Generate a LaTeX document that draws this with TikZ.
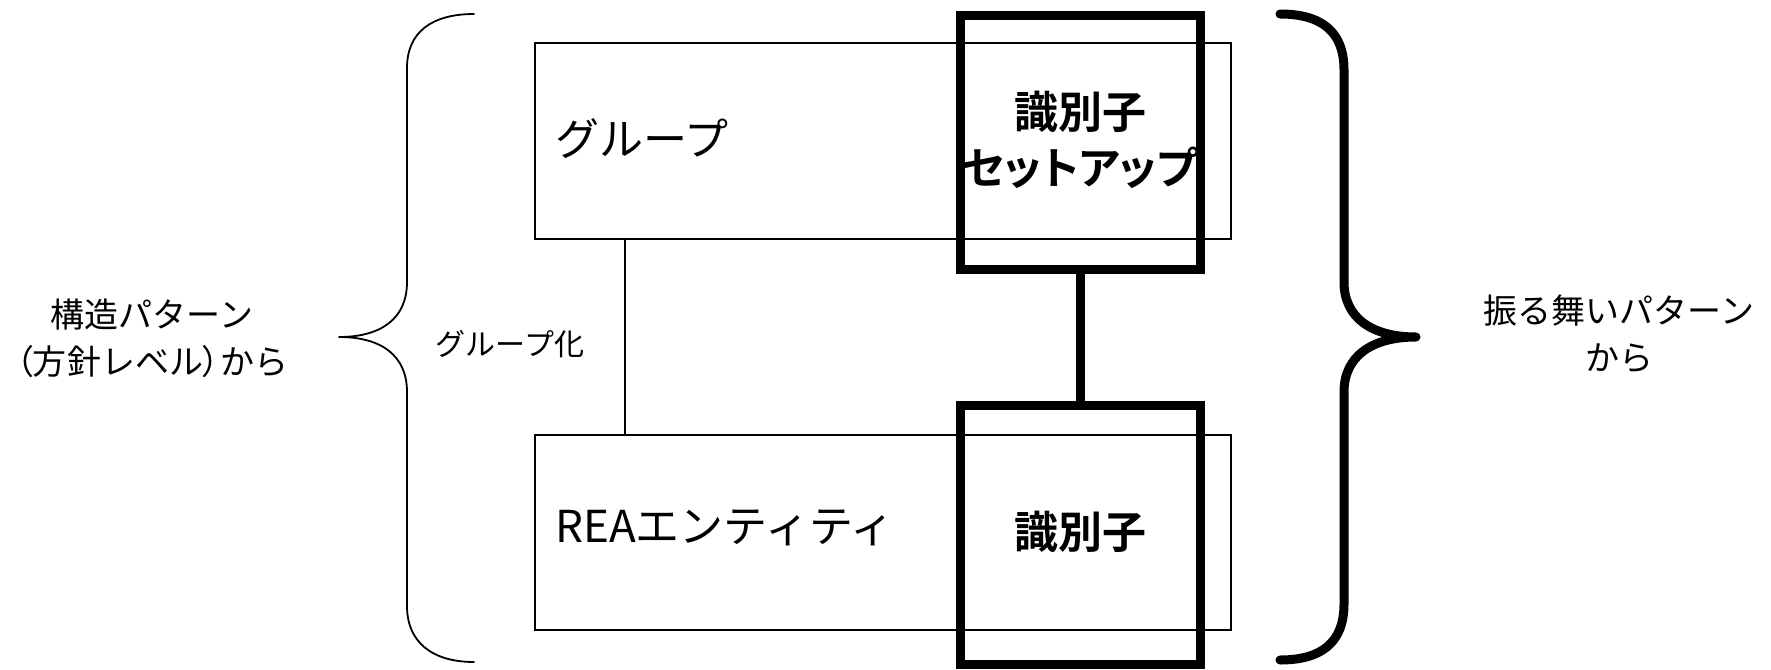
\documentclass[tikz,border=0pt]{standalone}
\usepackage{fontspec}
\setmainfont{Noto Sans CJK JP}[BoldFont={Noto Sans CJK JP Bold}]
\newfontfamily\jppalt{Noto Sans CJK JP}[BoldFont={Noto Sans CJK JP Bold},RawFeature=+palt]
\begin{document}
\begin{tikzpicture}[x=1pt,y=-1pt,
  thinbox/.style={draw,line width=1.8pt,minimum width=696pt,minimum height=196pt,inner sep=0pt},
  thickbox/.style={draw,line width=9pt,minimum width=240pt,inner sep=0pt},
  biglabel/.style={font=\fontsize{44}{56}\selectfont,inner sep=0pt},
  idlabel/.style={font=\jppalt\bfseries\fontsize{44}{56}\selectfont,inner sep=0pt,align=center},
  sidelabel/.style={font=\fontsize{34}{47}\selectfont,inner sep=0pt},
  brace/.style={line width=1.8pt,line cap=round,line join=round},
  thickbrace/.style={line width=9pt,line cap=round,line join=round}]
\useasboundingbox (0,0) rectangle (1771,669);
% thin boxes
\node[thinbox] (topbox) at (883,141) {};
\node[thinbox,minimum height=195pt] (botbox) at (883,532.5) {};
% thick boxes
\node[thickbox,minimum height=253pt] (topid) at (1080,142.5) {};
\node[thickbox,minimum height=259pt] (botid) at (1080,534.5) {};
% connectors
\draw[line width=1.8pt] ([xshift=91pt]topbox.south west) -- ([xshift=91pt]botbox.north west);
\draw[line width=9pt] (topid.south) -- (botid.north);
% labels
\node[biglabel,anchor=west] (grp) at ([xshift=21pt,yshift=2pt]topbox.west) {グループ};
\node[biglabel,anchor=west] (rea) at ([xshift=21pt,yshift=5pt]botbox.west) {REAエンティティ};
\node[idlabel] (idset) at ([yshift=3pt]topid.center) {識別子\\セットアップ};
\node[idlabel] (idb) at ([yshift=3pt]botid.center) {識別子};
\node[font=\fontsize{30}{36}\selectfont,inner sep=0pt] (grpka) at (510,344) {グループ化};
% left brace
\draw[brace] (474,14) .. controls (432,14) and (407,32) .. (407,68)
  -- (407,282) .. controls (407,318) and (382,337) .. (339,337)
  coordinate (ltip)
  .. controls (382,337) and (407,356) .. (407,392)
  -- (407,606) .. controls (407,642) and (432,662) .. (474,662);
% right brace
\draw[thickbrace] (1280,14) .. controls (1322,14) and (1344,32) .. (1344,70)
  -- (1344,282) .. controls (1344,318) and (1372,337) .. (1416,337)
  coordinate (rtip)
  .. controls (1372,337) and (1344,356) .. (1344,392)
  -- (1344,604) .. controls (1344,642) and (1322,660) .. (1280,660);
% side labels
\node[sidelabel,align=center] (ltext) at (152,338) {構造パターン\\{\jppalt （}方針レベル{\jppalt ）}から};
\node[sidelabel,align=center] (rtext) at (1619,334) {振る舞いパターン\\から};
\end{tikzpicture}
\end{document}
